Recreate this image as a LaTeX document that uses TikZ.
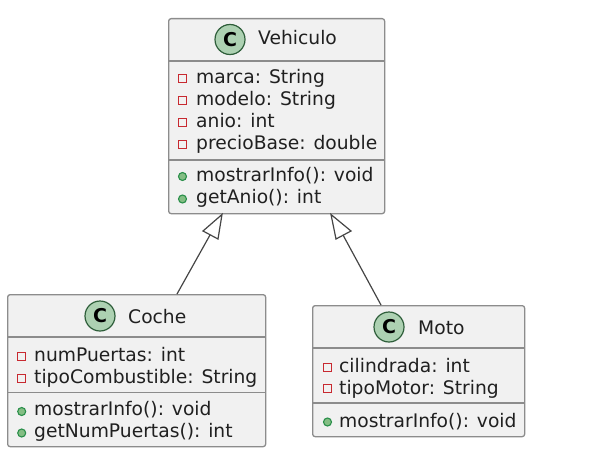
\documentclass[tikz,border=0pt]{standalone}
\usepackage{fontspec}
\setmainfont{DejaVu Sans}
\definecolor{boxfill}{HTML}{F1F1F1}
\definecolor{boxline}{HTML}{8C8C8C}
\definecolor{spot}{HTML}{ADD1B2}
\definecolor{spotline}{HTML}{2E5E3A}
\definecolor{privred}{HTML}{C82930}
\definecolor{pubgreen}{HTML}{84BE84}
\definecolor{publine}{HTML}{2A8F4A}
\definecolor{ink}{HTML}{202020}
\definecolor{edge}{HTML}{454545}
\tikzset{
  x=1pt,y=-1pt,
  classbox/.style={draw=boxline,fill=boxfill,line width=1.3pt,rounded corners=2.5pt,inner sep=0pt,anchor=north west},
  sepline/.style={draw=boxline,line width=1.1pt},
  member/.style={text=ink,font=\fontsize{18.7}{18.7}\selectfont,anchor=base west,inner sep=0pt},
  title/.style={text=ink,font=\fontsize{18.7}{18.7}\selectfont,anchor=base west,inner sep=0pt},
  spotc/.style={circle,draw=spotline,fill=spot,line width=1.2pt,minimum size=30pt,inner sep=0pt,font=\fontsize{19}{19}\selectfont\bfseries,text=black},
  privm/.style={draw=privred,line width=1pt,fill=none,minimum size=8pt,inner sep=0pt,rectangle},
  pubm/.style={draw=publine,fill=pubgreen,line width=1.1pt,minimum size=8pt,inner sep=0pt,circle},
  inherit/.style={draw=edge,line width=1.2pt},
  tipshape/.style={draw=edge,fill=white,line width=1.2pt,line join=miter},
}
\begin{document}
\begin{tikzpicture}
\useasboundingbox (0,0) rectangle (593,452);
% Vehiculo
\node[classbox,minimum width=216pt,minimum height=195pt] (veh) at (168,18) {};
\draw[sepline] (168,61) -- (384,61);
\draw[sepline] (168,160) -- (384,160);
\node[spotc] (vehc) at (230,39.5) {C};
\node[title] (veht) at (258,45) {Vehiculo};
\node[privm] (v1m) at (182.5,78.5) {}; \node[member] (v1) at (196,83.3) {marca: String};
\node[privm] (v2m) at (182.5,100.5) {}; \node[member] (v2) at (196,105) {modelo: String};
\node[privm] (v3m) at (182.5,122.7) {}; \node[member] (v3) at (196,127) {anio: int};
\node[privm] (v4m) at (182.5,144.5) {}; \node[member] (v4) at (196,149) {precioBase: double};
\node[pubm] (v5m) at (182.5,176.5) {}; \node[member] (v5) at (196,181.5) {mostrarInfo(): void};
\node[pubm] (v6m) at (182.5,199) {}; \node[member] (v6) at (196,203) {getAnio(): int};
% Coche
\node[classbox,minimum width=258pt,minimum height=152pt] (coc) at (7,294) {};
\draw[sepline] (7,337) -- (265,337);
\draw[sepline] (7,392.5) -- (265,392.5);
\node[spotc] (cocc) at (100,316) {C};
\node[title] (coct) at (128,323) {Coche};
\node[privm] (c1m) at (21.7,356) {}; \node[member] (c1) at (34,361) {numPuertas: int};
\node[privm] (c2m) at (21.7,378) {}; \node[member] (c2) at (34,383) {tipoCombustible: String};
\node[pubm] (c3m) at (21.7,411.5) {}; \node[member] (c3) at (34,415) {mostrarInfo(): void};
\node[pubm] (c4m) at (21.7,433) {}; \node[member] (c4) at (34,437) {getNumPuertas(): int};
% Moto
\node[classbox,minimum width=212pt,minimum height=131pt] (mot) at (312,305) {};
\draw[sepline] (312,348) -- (524,348);
\draw[sepline] (312,403) -- (524,403);
\node[spotc] (motc) at (389,327) {C};
\node[title] (mott) at (418,334) {Moto};
\node[privm] (m1m) at (327.5,367) {}; \node[member] (m1) at (339,372) {cilindrada: int};
\node[privm] (m2m) at (327.5,388.5) {}; \node[member] (m2) at (339,394) {tipoMotor: String};
\node[pubm] (m3m) at (327.5,422) {}; \node[member] (m3) at (339,427) {mostrarInfo(): void};
% Inheritance
\coordinate (a1) at (177,294);
\coordinate (a2) at (210,235);
\coordinate (a3) at (203,231);
\coordinate (a4) at (222,214.5);
\coordinate (a5) at (218,239);
\coordinate (b1) at (381,305);
\coordinate (b2) at (343,235);
\coordinate (b3) at (351,231);
\coordinate (b4) at (331,214.5);
\coordinate (b5) at (336,239);
\draw[inherit] (a1) -- (a2);
\draw[inherit] (b1) -- (b2);
\draw[tipshape] (a4) -- (a3) -- (a5) -- cycle;
\draw[tipshape] (b4) -- (b3) -- (b5) -- cycle;
\end{tikzpicture}
\end{document}
